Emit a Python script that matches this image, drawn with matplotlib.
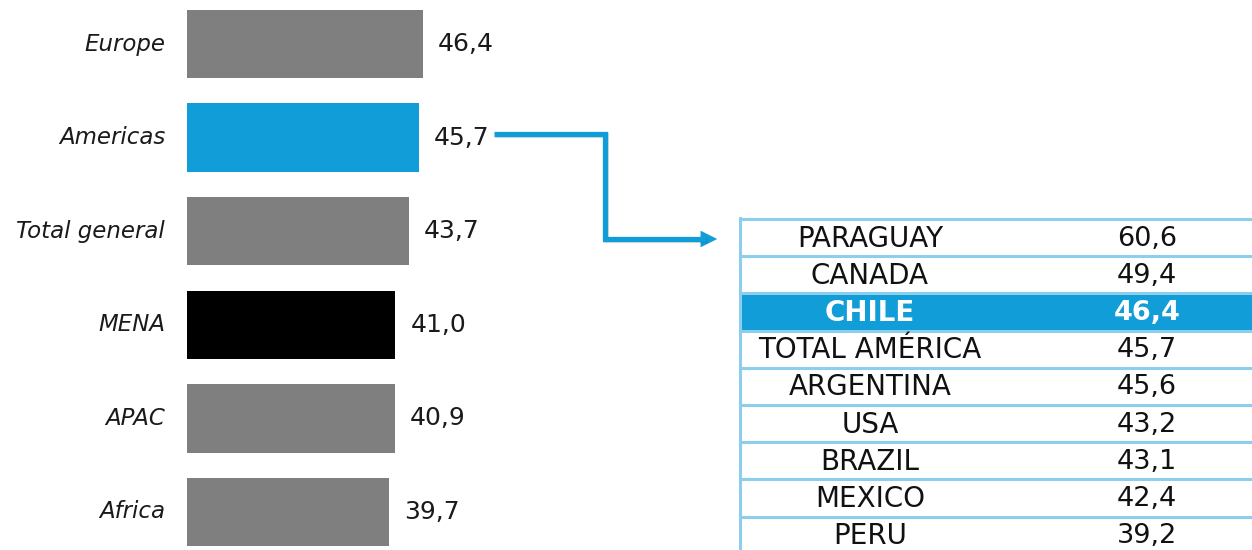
import matplotlib.pyplot as plt
from matplotlib.patches import Rectangle, FancyArrowPatch
import matplotlib.patheffects as pe

# datos del gráfico de barras
regiones = ['Europe', 'Americas', 'Total general', 'MENA', 'APAC', 'Africa']
valores = [46.4, 45.7, 43.7, 41.0, 40.9, 39.7]
colores = ['#7f7f7f', '#109dd8', '#7f7f7f', '#000000', '#7f7f7f', '#7f7f7f']

# datos de la tabla de América
paises = ['PARAGUAY', 'CANADA', 'CHILE', 'TOTAL AMÉRICA', 'ARGENTINA',
          'USA', 'BRAZIL', 'MEXICO', 'PERU']
valores_paises = [60.6, 49.4, 46.4, 45.7, 45.6, 43.2, 43.1, 42.4, 39.2]
destacado = 'CHILE'

AZUL = '#109dd8'
BORDE = '#8ccfec'
W, H = 1252, 550


def fmt(v):
    return f'{v:.1f}'.replace('.', ',')


fig = plt.figure(figsize=(W / 100, H / 100), dpi=100)

# barras horizontales
ax = fig.add_axes([187 / W, 0, 300 / W, 1])
escala = 5.08  # px por unidad
ax.set_xlim(0, 300 / escala)
ax.set_ylim((H - 44) / 93.6, -44 / 93.6)
pos = list(range(len(regiones)))
ax.barh(pos, valores, height=0.73, color=colores)
for i, (r, v) in enumerate(zip(regiones, valores)):
    ax.annotate(r, (0, i), xytext=(-22, 0), textcoords='offset pixels',
                ha='right', va='center', fontsize=16.5, style='italic',
                color='#1a1a1a')
    ax.annotate(fmt(v), (v, i), xytext=(15, 0), textcoords='offset pixels',
                ha='left', va='center', fontsize=18, color='#1a1a1a')
ax.axis('off')

# capa superior en pixeles para flecha y tabla
ov = fig.add_axes([0, 0, 1, 1])
ov.set_xlim(0, W)
ov.set_ylim(H, 0)
ov.axis('off')

# flecha
sombra = [pe.SimpleLineShadow(offset=(1, -1), alpha=0.12), pe.Normal()]
ov.plot([494, 605, 605, 706], [134, 134, 239, 239], color=AZUL, lw=3.8,
        solid_joinstyle='miter', solid_capstyle='butt', path_effects=sombra)
ov.add_patch(FancyArrowPatch((700, 239), (720, 239), arrowstyle='-|>',
                             mutation_scale=30, color=AZUL, lw=0))

# tabla
top, alto, izq = 219, 37.2, 740
for i, (p, v) in enumerate(zip(paises, valores_paises)):
    yc = top + alto * (i + 0.5)
    if p == destacado:
        ov.add_patch(Rectangle((izq, top + alto * i), W - izq, alto,
                               color=AZUL, lw=0))
        kw = dict(color='white', fontweight='bold')
    else:
        kw = dict(color='#111111')
    ov.text(870, yc + 1, p, ha='center', va='center', fontsize=20, **kw)
    ov.text(1147, yc + 1, fmt(v), ha='center', va='center', fontsize=19.5, **kw)
for i in range(len(paises) + 1):
    y = top + alto * i
    ov.plot([izq, W], [y, y], color=BORDE, lw=2.2)
ov.plot([izq, izq], [top - 1, H], color=BORDE, lw=2.2)

fig.savefig('out.png', dpi=100)
